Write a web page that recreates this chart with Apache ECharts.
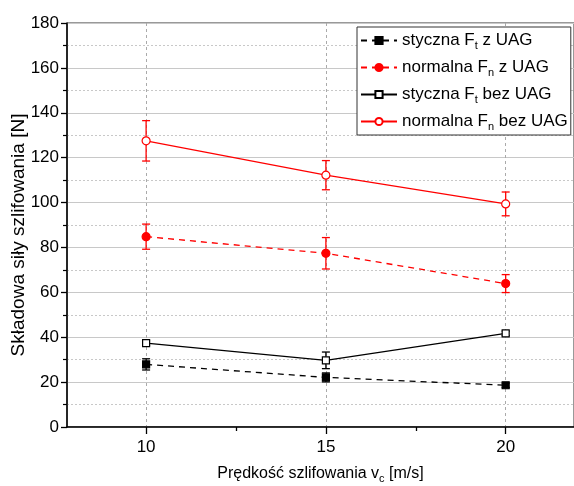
<!DOCTYPE html>
<html>
<head>
<meta charset="utf-8">
<script src="https://cdn.jsdelivr.net/npm/echarts@6/dist/echarts.min.js"></script>
<style>
  html, body { margin: 0; padding: 0; background: #fff; }
  #chart { width: 574px; height: 486px; }
</style>
</head>
<body>
<div id="chart"></div>
<script>
// speeds [m/s]
const speeds = [10, 15, 20];

// force components [N] and error bar half-widths
const ftZ = [27.9, 22.1, 18.6];
const ftZErr = [2.5, 2.0, 1.0];
const fnZ = [84.8, 77.4, 63.9];
const fnZErr = [5.6, 7.0, 4.0];
const ftBez = [37.4, 29.7, 41.7];
const ftBezErr = [1.0, 3.7, 1.0];
const fnBez = [127.5, 112.2, 99.4];
const fnBezErr = [9.0, 6.5, 5.3];

const xMajorTicks = [10, 15, 20];
const xMinorTicks = [12.5, 17.5];

const font = 'Liberation Sans, Arial, sans-serif';
const sub = { fontSize: 11, fontFamily: font, color: '#000', padding: [10, 0, 0, 0] };

function pairs(ys) {
    return speeds.map(function (x, i) { return [x, ys[i]]; });
}

function errorSeries(ys, errs, color) {
    return {
        type: 'custom',
        silent: true,
        z: 3,
        data: speeds.map(function (x, i) { return [x, ys[i] - errs[i], ys[i] + errs[i]]; }),
        renderItem: function (params, api) {
            const lo = api.coord([api.value(0), api.value(1)]);
            const hi = api.coord([api.value(0), api.value(2)]);
            const w = 4;
            const style = { stroke: color, lineWidth: 1.3 };
            return {
                type: 'group',
                children: [
                    { type: 'line', shape: { x1: lo[0], y1: lo[1], x2: hi[0], y2: hi[1] }, style: style },
                    { type: 'line', shape: { x1: lo[0] - w, y1: lo[1], x2: lo[0] + w, y2: lo[1] }, style: style },
                    { type: 'line', shape: { x1: hi[0] - w, y1: hi[1], x2: hi[0] + w, y2: hi[1] }, style: style }
                ]
            };
        }
    };
}

function lineSeries(name, ys, color, dashed, symbol, filled) {
    return {
        name: name,
        type: 'line',
        data: pairs(ys),
        symbol: symbol,
        symbolSize: symbol === 'circle' ? 8 : 7,
        z: 4,
        lineStyle: { color: color, width: 1.3, type: dashed ? [6, 5] : 'solid' },
        itemStyle: { color: filled ? color : '#fff', borderColor: color, borderWidth: 1.2 }
    };
}

const chart = echarts.init(document.getElementById('chart'));

const option = {
    animation: false,
    backgroundColor: '#fff',
    grid: {
        left: 67, top: 23, right: 0, bottom: 59,
        outerBoundsMode: 'none',
        show: true, borderColor: '#333', borderWidth: 1
    },
    legend: {
        left: 357,
        top: 27,
        orient: 'vertical',
        itemWidth: 36,
        itemHeight: 9,
        itemGap: 8,
        padding: [5, 3, 3, 3],
        borderColor: '#333',
        borderWidth: 1,
        backgroundColor: '#fff',
        textStyle: { fontFamily: font, fontSize: 17, color: '#000', rich: { sub: sub } },
        data: ['ftz', 'fnz', 'ftb', 'fnb'],
        formatter: function (n) {
            return {
                ftz: 'styczna F{sub|t} z UAG',
                fnz: 'normalna F{sub|n} z UAG',
                ftb: 'styczna F{sub|t} bez UAG',
                fnb: 'normalna F{sub|n} bez UAG'
            }[n];
        }
    },
    xAxis: [{
        type: 'value',
        min: 7.8,
        max: 21.9,
        name: 'Prędkość szlifowania v{sub|c} [m/s]',
        nameLocation: 'middle',
        nameGap: 36,
        nameTextStyle: { fontFamily: font, fontSize: 16, color: '#000', rich: { sub: sub } },
        axisLine: { lineStyle: { color: '#000', width: 1.5 } },
        axisTick: { customValues: xMajorTicks, length: 7, inside: false, lineStyle: { color: '#000', width: 1.3 } },
        axisLabel: { customValues: xMajorTicks, fontFamily: font, fontSize: 17, color: '#000', margin: 12 },
        splitLine: { show: true, lineStyle: { color: '#aaa', type: [3, 3] } }
    }, {
        type: 'value',
        min: 7.8,
        max: 21.9,
        position: 'bottom',
        axisLine: { show: false },
        axisTick: { customValues: xMinorTicks, length: 4, lineStyle: { color: '#000', width: 1.3 } },
        axisLabel: { show: false },
        splitLine: { show: false }
    }],
    yAxis: {
        type: 'value',
        min: 0,
        max: 180,
        interval: 20,
        name: 'Składowa siły szlifowania [N]',
        nameLocation: 'middle',
        nameGap: 39,
        nameMoveOverlap: false,
        nameTextStyle: { fontFamily: font, fontSize: 19, color: '#000', padding: [0, 20, 0, 0] },
        axisLine: { show: true, lineStyle: { color: '#000', width: 1.5 } },
        axisTick: { show: true, length: 6, lineStyle: { color: '#000', width: 1.3 } },
        minorTick: { show: true, splitNumber: 2, length: 4, lineStyle: { color: '#000', width: 1.2 } },
        axisLabel: { fontFamily: font, fontSize: 17, color: '#000', margin: 8 },
        splitLine: { show: true, lineStyle: { color: '#c8c8c8', width: 1 } },
        minorSplitLine: { show: true, lineStyle: { color: '#c8c8c8', type: [2, 2] } }
    },
    series: [
        errorSeries(ftZ, ftZErr, '#000'),
        errorSeries(fnZ, fnZErr, '#f00'),
        errorSeries(ftBez, ftBezErr, '#000'),
        errorSeries(fnBez, fnBezErr, '#f00'),
        lineSeries('ftz', ftZ, '#000', true, 'rect', true),
        lineSeries('fnz', fnZ, '#f00', true, 'circle', true),
        lineSeries('ftb', ftBez, '#000', false, 'rect', false),
        lineSeries('fnb', fnBez, '#f00', false, 'circle', false)
    ]
};

chart.setOption(option);
</script>
</body>
</html>
